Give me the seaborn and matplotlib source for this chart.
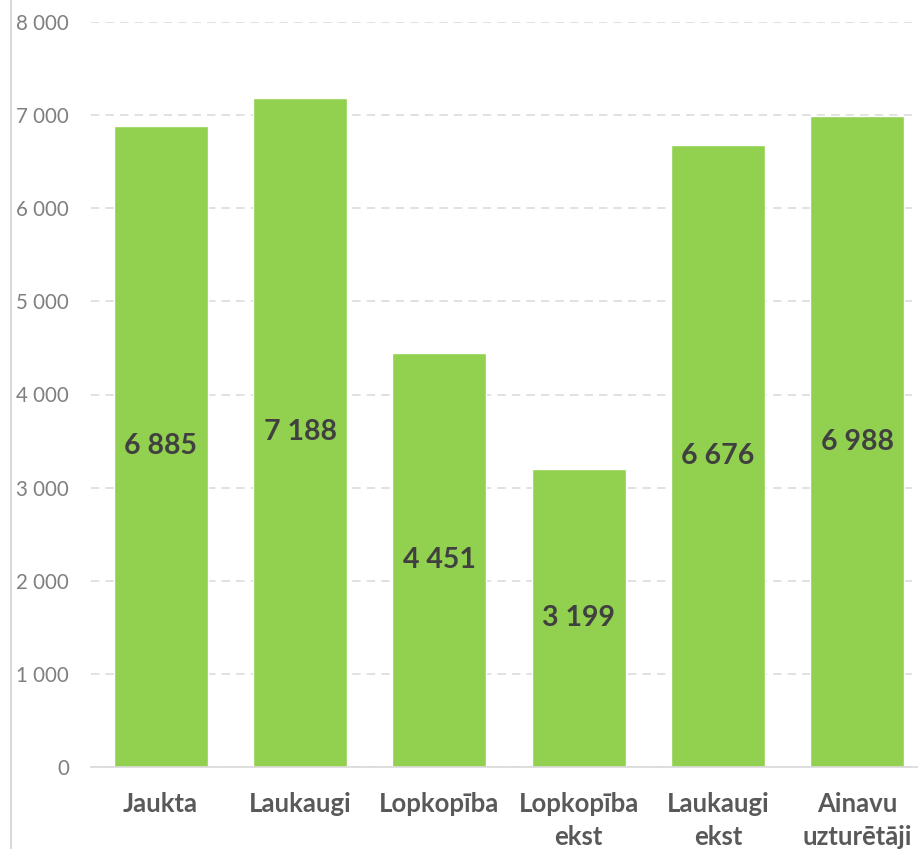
import matplotlib
matplotlib.use("Agg")
import matplotlib.pyplot as plt
import seaborn as sns
import pandas as pd
from matplotlib.lines import Line2D
from matplotlib.ticker import FuncFormatter, MultipleLocator

# datos
categorias = ["Jaukta", "Laukaugi", "Lopkopība", "Lopkopība\nekst", "Laukaugi\nekst", "Ainavu\nuzturētāji"]
valores = [6885, 7188, 4451, 3199, 6676, 6988]

sns.set_style("white")
plt.rcParams['font.family'] = ['Lato', 'DejaVu Sans']

df = pd.DataFrame({'cat': categorias, 'val': valores})

fig = plt.figure(figsize=(9.18, 8.49), dpi=100)
ax = fig.add_axes([91 / 918, 82 / 849, 836 / 918, 745 / 849])

sns.barplot(
    data=df,
    x='cat',
    y='val',
    hue='cat',
    palette=['#92D050'] * len(categorias),
    width=0.675,
    saturation=1,
    legend=False,
    ax=ax,
)

for i, v in enumerate(valores):
    ax.text(i, v / 2, f"{v:,}".replace(",", " "), ha='center', va='center',
            fontsize=20.5, fontweight='bold', color='#404040')

ax.set_ylim(0, 8000)
ax.set_xlim(-0.5, len(categorias) - 0.5)
ax.yaxis.set_major_locator(MultipleLocator(1000))
ax.yaxis.set_major_formatter(FuncFormatter(lambda x, p: f"{int(x):,}".replace(",", " ")))
ax.grid(axis='y', color='#d9d9d9', linestyle=(0, (5.5, 4)), linewidth=1.1)
ax.set_axisbelow(True)

for s in ['top', 'right', 'left']:
    ax.spines[s].set_visible(False)
ax.spines['bottom'].set_color('#d9d9d9')
ax.spines['bottom'].set_linewidth(1.2)

ax.tick_params(axis='y', length=0, pad=16, labelsize=14.8, labelcolor='#7f7f7f')
ax.tick_params(axis='x', length=0, pad=18, labelsize=18.5, labelcolor='#595959')
for lbl in ax.get_xticklabels():
    lbl.set_fontweight('bold')
    lbl.set_linespacing(1.45)
ax.set_xlabel('')
ax.set_ylabel('')

# borde izquierdo
fig.add_artist(Line2D([11 / 918, 11 / 918], [0, 1], color='#d9d9d9', linewidth=1.5))

fig.savefig('out.png', dpi=100)
